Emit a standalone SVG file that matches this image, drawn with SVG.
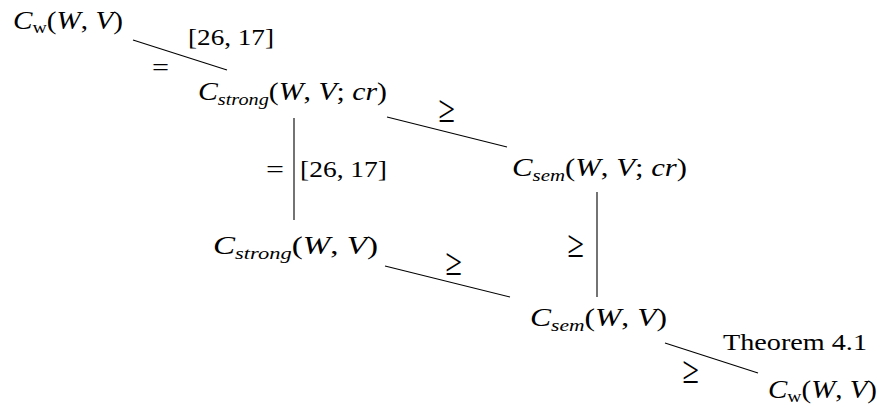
<svg xmlns="http://www.w3.org/2000/svg" width="882" height="413" viewBox="0 0 882 413">
<style>
text { font-family: "Liberation Serif", "Times New Roman", serif; fill: #000; }
.i { font-style: italic; }
.ge { font-size: 24px; }
line { stroke: #000; stroke-width: 1.1; }
</style>
<rect width="882" height="413" fill="#fff"/>
<g id="connectors">
  <line x1="133" y1="40" x2="227" y2="70"/>
  <line x1="294" y1="118" x2="294" y2="220"/>
  <line x1="387" y1="117" x2="507" y2="147"/>
  <line x1="385" y1="266" x2="510" y2="297"/>
  <line x1="597" y1="192" x2="597" y2="297"/>
  <line x1="665" y1="343" x2="758" y2="373"/>
  <text font-size="24" x="152" y="75" textLength="17" lengthAdjust="spacingAndGlyphs">=</text>
  <text font-size="24" x="188" y="45" textLength="86" lengthAdjust="spacingAndGlyphs">[26, 17]</text>
  <text font-size="24" x="266" y="177" textLength="18" lengthAdjust="spacingAndGlyphs">=</text>
  <text font-size="24" x="300" y="177" textLength="87" lengthAdjust="spacingAndGlyphs">[26, 17]</text>
  <g transform="translate(446.5,122) scale(1.25,1.6)"><text class="ge" x="0" y="0" text-anchor="middle">≥</text></g>
  <g transform="translate(453.5,275) scale(1.25,1.6)"><text class="ge" x="0" y="0" text-anchor="middle">≥</text></g>
  <g transform="translate(575.5,257) scale(1.25,1.6)"><text class="ge" x="0" y="0" text-anchor="middle">≥</text></g>
  <g transform="translate(690.5,383) scale(1.25,1.6)"><text class="ge" x="0" y="0" text-anchor="middle">≥</text></g>
  <text font-size="24" x="723" y="350" textLength="144" lengthAdjust="spacingAndGlyphs">Theorem 4.1</text>
</g>
<g id="n1">
  <text font-size="25" x="13" y="29" textLength="110" lengthAdjust="spacingAndGlyphs"><tspan class="i">C</tspan><tspan font-size="17" dy="4">w</tspan><tspan dy="-4">(</tspan><tspan class="i">W</tspan>, <tspan class="i">V</tspan>)</text>
</g>
<g id="n2">
  <text font-size="25" x="198" y="100" textLength="189" lengthAdjust="spacingAndGlyphs"><tspan class="i">C</tspan><tspan class="i" font-size="17" dy="5">strong</tspan><tspan dy="-5">(</tspan><tspan class="i">W</tspan>, <tspan class="i">V</tspan>; <tspan class="i">cr</tspan>)</text>
</g>
<g id="n3">
  <text font-size="25" x="512" y="176" textLength="175" lengthAdjust="spacingAndGlyphs"><tspan class="i">C</tspan><tspan class="i" font-size="17" dy="5">sem</tspan><tspan dy="-5">(</tspan><tspan class="i">W</tspan>, <tspan class="i">V</tspan>; <tspan class="i">cr</tspan>)</text>
</g>
<g id="n4">
  <text font-size="25" x="213" y="254" textLength="165" lengthAdjust="spacingAndGlyphs"><tspan class="i">C</tspan><tspan class="i" font-size="17" dy="5">strong</tspan><tspan dy="-5">(</tspan><tspan class="i">W</tspan>, <tspan class="i">V</tspan>)</text>
</g>
<g id="n5">
  <text font-size="25" x="530" y="326" textLength="137" lengthAdjust="spacingAndGlyphs"><tspan class="i">C</tspan><tspan class="i" font-size="17" dy="5">sem</tspan><tspan dy="-5">(</tspan><tspan class="i">W</tspan>, <tspan class="i">V</tspan>)</text>
</g>
<g id="n6">
  <text font-size="25" x="768" y="398" textLength="109" lengthAdjust="spacingAndGlyphs"><tspan class="i">C</tspan><tspan font-size="17" dy="4">w</tspan><tspan dy="-4">(</tspan><tspan class="i">W</tspan>, <tspan class="i">V</tspan>)</text>
</g>
</svg>
